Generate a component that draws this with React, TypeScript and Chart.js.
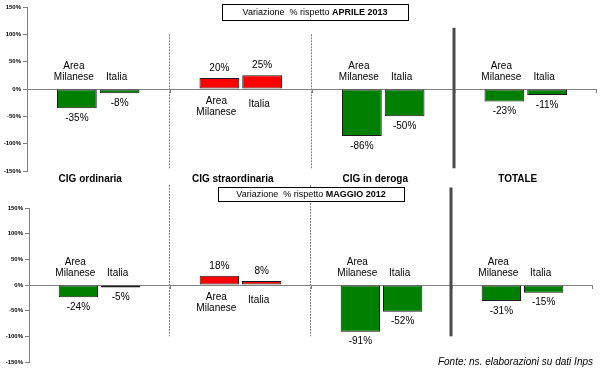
import React, { useEffect, useRef } from "react";
import { Chart, registerables } from "chart.js";
Chart.register(...registerables);

const categories = ["CIG ordinaria", "CIG straordinaria", "CIG in deroga", "TOTALE"];
const seriesNames = ["Area\nMilanese", "Italia"];
const aprile2013Milano = [-35, 20, -86, -23];
const aprile2013Italia = [-8, 25, -50, -11];
const maggio2012Milano = [-24, 18, -91, -31];
const maggio2012Italia = [-5, 8, -52, -15];
const yMin = -150;
const yMax = 150;
const yStep = 50;
const titleNormal = "Variazione  % rispetto ";
const titleBoldTop = "APRILE 2013";
const titleBoldBottom = "MAGGIO 2012";
const sourceText = "Fonte: ns. elaborazioni su dati Inps";

const FONT = "'Liberation Sans', Arial, Helvetica, sans-serif";

const annotPlugin = {
  id: "annot",
  beforeDatasetsDraw(chart: any, _args: any, opts: any) {
    const { ctx } = chart;
    const x = chart.scales.x;
    const y = chart.scales.y;
    ctx.save();
    (opts.separators || []).forEach((s: any) => {
      const px = Math.round((x.getPixelForTick(s.after) + x.getPixelForTick(s.after + 1)) / 2 + (s.dx || 0));
      const y1 = y.getPixelForValue(s.from);
      const y2 = y.getPixelForValue(s.to);
      ctx.beginPath();
      if (s.solid) {
        ctx.setLineDash([]);
        ctx.strokeStyle = "#4a4a4a";
        ctx.lineWidth = 3;
        ctx.moveTo(px, y1);
        ctx.lineTo(px, y2);
      } else {
        ctx.setLineDash([2, 1]);
        ctx.strokeStyle = "#808080";
        ctx.lineWidth = 1;
        ctx.moveTo(px + 0.5, y1);
        ctx.lineTo(px + 0.5, y2);
      }
      ctx.stroke();
    });
    ctx.setLineDash([]);
    // small ticks on zero line at category boundaries
    const zero = Math.round(y.getPixelForValue(0));
    ctx.strokeStyle = "#808080";
    ctx.lineWidth = 1;
    const n = chart.data.labels.length;
    for (let i = 0; i < n; i++) {
      const px =
        i < n - 1
          ? Math.round((x.getPixelForTick(i) + x.getPixelForTick(i + 1)) / 2)
          : Math.round(chart.chartArea.right) - 1;
      ctx.beginPath();
      ctx.moveTo(px + 0.5, zero);
      ctx.lineTo(px + 0.5, zero + 4);
      ctx.stroke();
    }
    ctx.restore();
  },
  afterDatasetsDraw(chart: any, _args: any, opts: any) {
    const { ctx } = chart;
    const y = chart.scales.y;
    const zero = y.getPixelForValue(0);
    ctx.save();
    ctx.fillStyle = "#000";
    ctx.textAlign = "center";
    ctx.textBaseline = "middle";
    chart.data.datasets.forEach((ds: any, di: number) => {
      const meta = chart.getDatasetMeta(di);
      const lines = String(ds.label).split("\n");
      meta.data.forEach((bar: any, i: number) => {
        const v = ds.data[i];
        ctx.font = `10px ${FONT}`;
        if (v < 0) {
          ctx.fillText(`${v}%`, bar.x, bar.y + 10);
          lines.forEach((ln: string, li: number) => {
            ctx.fillText(ln, bar.x - 3, zero - 12 - (lines.length - 1 - li) * 11);
          });
        } else {
          ctx.fillText(`${v}%`, bar.x, bar.y - 10);
          lines.forEach((ln: string, li: number) => {
            const base = lines.length > 1 ? zero + 12 : zero + 15;
            ctx.fillText(ln, bar.x - 3, base + li * 11);
          });
        }
      });
    });
    // title box
    const b = opts.box;
    if (b) {
      ctx.fillStyle = "#fff";
      ctx.fillRect(b.left, b.top, b.w, b.h);
      ctx.strokeStyle = "#000";
      ctx.lineWidth = 1;
      ctx.strokeRect(b.left + 0.5, b.top + 0.5, b.w, b.h);
      ctx.font = `9px ${FONT}`;
      const w1 = ctx.measureText(b.normal).width;
      ctx.font = `bold 9px ${FONT}`;
      const w2 = ctx.measureText(b.bold).width;
      let sx = b.left + b.w / 2 - (w1 + w2) / 2;
      ctx.fillStyle = "#000";
      ctx.textAlign = "left";
      ctx.font = `9px ${FONT}`;
      ctx.fillText(b.normal, sx, b.top + b.h / 2 + 1);
      ctx.font = `bold 9px ${FONT}`;
      ctx.fillText(b.bold, sx + w1, b.top + b.h / 2 + 1);
    }
    const s = opts.source;
    if (s) {
      ctx.font = `italic 10px ${FONT}`;
      ctx.textAlign = "right";
      ctx.fillStyle = "#000";
      ctx.fillText(s.text, s.x, s.y);
    }
    ctx.restore();
  },
};

function makeConfig(milano: number[], italia: number[], o: any): any {
  const bg = (c: any) => (c.raw >= 0 ? "#FF0000" : "#008000");
  const dsCommon = {
    backgroundColor: bg,
    borderColor: "#1a1a1a",
    borderWidth: 1,
    borderSkipped: false,
    categoryPercentage: 0.6,
    barPercentage: 0.93,
  };
  return {
    type: "bar",
    data: {
      labels: categories,
      datasets: [
        { label: seriesNames[0], data: milano, ...dsCommon },
        { label: seriesNames[1], data: italia, ...dsCommon },
      ],
    },
    plugins: [annotPlugin],
    options: {
      responsive: false,
      animation: false,
      devicePixelRatio: 1,
      layout: { padding: o.padding },
      plugins: {
        legend: { display: false },
        tooltip: { enabled: false },
        annot: { box: o.box, separators: o.separators, source: o.source },
      },
      scales: {
        x: {
          display: o.showCategories,
          position: "bottom",
          grid: { display: false, drawTicks: false },
          border: { display: false },
          ticks: {
            font: { family: FONT, size: 10, weight: "bold" },
            color: "#000",
            padding: 2,
            labelOffset: -8,
            maxRotation: 0,
            autoSkip: false,
          },
          afterFit: (s: any) => {
            s.height = o.xHeight;
          },
        },
        y: {
          min: yMin,
          max: yMax,
          ticks: {
            stepSize: yStep,
            callback: (v: any) => `${v}%`,
            font: { family: FONT, size: 6, weight: "bold" },
            color: "#000",
            padding: 2,
          },
          grid: {
            color: (c: any) => (c.tick && c.tick.value === 0 ? "#808080" : "rgba(0,0,0,0)"),
            tickColor: "#808080",
            tickLength: 4,
            lineWidth: 1,
          },
          border: { display: true, color: "#808080" },
          afterFit: (s: any) => {
            s.width = o.yWidth;
          },
        },
      },
    },
  };
}

export default function App() {
  const topRef = useRef<HTMLCanvasElement>(null);
  const botRef = useRef<HTMLCanvasElement>(null);
  useEffect(() => {
    const top = new Chart(
      topRef.current as HTMLCanvasElement,
      makeConfig(aprile2013Milano, aprile2013Italia, {
        padding: { top: 7, left: 0, right: 3, bottom: 0 },
        showCategories: true,
        xHeight: 200,
        yWidth: 27,
        box: { left: 222, top: 4, w: 186, h: 16, normal: titleNormal, bold: titleBoldTop },
        separators: [
          { after: 0, from: 100, to: -145, solid: false, dx: -1 },
          { after: 1, from: 100, to: -145, solid: false, dx: -1 },
          { after: 2, from: 112, to: -145, solid: true, dx: -1 },
        ],
      })
    );
    const bot = new Chart(
      botRef.current as HTMLCanvasElement,
      makeConfig(maggio2012Milano, maggio2012Italia, {
        padding: { top: 208, left: 0, right: 7, bottom: 9 },
        showCategories: false,
        xHeight: 0,
        yWidth: 29,
        box: { left: 218, top: 187, w: 186, h: 14, normal: titleNormal, bold: titleBoldBottom },
        separators: [
          { after: 0, from: 195, to: -100, solid: false, dx: -1 },
          { after: 1, from: 195, to: -100, solid: false, dx: -1 },
          { after: 2, from: 190, to: -100, solid: true, dx: -1 },
        ],
        source: { text: sourceText, x: 593, y: 362 },
      })
    );
    return () => {
      top.destroy();
      bot.destroy();
    };
  }, []);
  const cs: React.CSSProperties = { position: "absolute", left: 0, top: 0, display: "block" };
  return (
    <div style={{ position: "fixed", left: 0, top: 0, width: 600, height: 371, background: "#fff" }}>
      <canvas ref={botRef} width={600} height={371} style={cs} />
      <canvas ref={topRef} width={600} height={371} style={cs} />
    </div>
  );
}
